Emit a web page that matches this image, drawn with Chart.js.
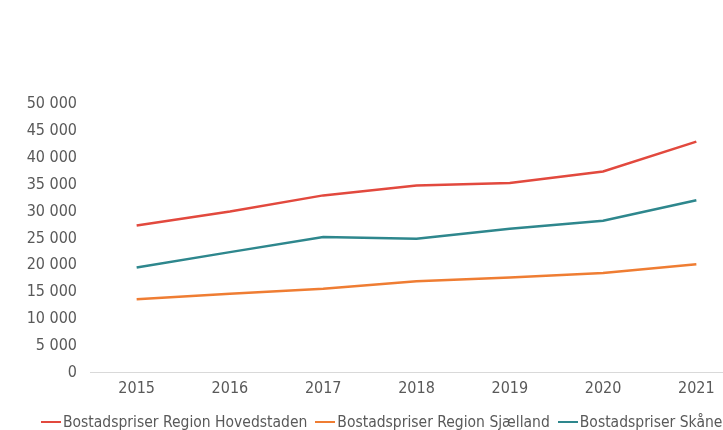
<!DOCTYPE html>
<html>
<head>
<meta charset="utf-8">
<script src="https://cdn.jsdelivr.net/npm/chart.js@4"></script>
<style>
  html, body { margin: 0; padding: 0; background: #fff; overflow: hidden; }
  #wrap { width: 780px; height: 430px; position: relative; }
  #legend {
    position: absolute; left: 41px; top: 413px;
    display: flex; white-space: nowrap;
    font-family: "DejaVu Sans Condensed", "Liberation Sans Narrow", Roboto, sans-serif;
    font-size: 15.5px; line-height: 18px; color: #595959;
  }
  #legend .item { display: flex; align-items: center; margin-right: 8px; }
  #legend .swatch { width: 20px; height: 2.5px; margin-right: 2px; }
</style>
</head>
<body>
<div id="wrap"><canvas id="c"></canvas><div id="legend"></div></div>
<script>
const years = ['2015', '2016', '2017', '2018', '2019', '2020', '2021'];
const hovedstaden = [27400, 30000, 33000, 34850, 35300, 37450, 43000];
const sjaelland = [13700, 14700, 15650, 17050, 17750, 18550, 20200];
const skane = [19600, 22450, 25250, 24950, 26800, 28300, 32100];
const seriesNames = [
  'Bostadspriser Region Hovedstaden',
  'Bostadspriser Region Sjælland',
  'Bostadspriser Skåne'
];

const FONT = '"DejaVu Sans Condensed", "Liberation Sans Narrow", Roboto, sans-serif';
const TEXT = '#595959';

function fmt(v) {
  return String(v).replace(/\B(?=(\d{3})+(?!\d))/g, ' ');
}

function line(label, data, color) {
  return {
    label, data,
    borderColor: color,
    backgroundColor: color,
    borderWidth: 2.5,
    pointRadius: 0,
    pointHoverRadius: 0,
    tension: 0,
    fill: false
  };
}

// Legend row built from the chart's own datasets
const htmlLegend = {
  id: 'htmlLegend',
  afterUpdate(chart) {
    const box = document.getElementById('legend');
    box.innerHTML = '';
    chart.data.datasets.forEach((ds) => {
      const item = document.createElement('span');
      item.className = 'item';
      const sw = document.createElement('span');
      sw.className = 'swatch';
      sw.style.background = ds.borderColor;
      const txt = document.createElement('span');
      txt.textContent = ds.label;
      item.appendChild(sw);
      item.appendChild(txt);
      box.appendChild(item);
    });
  }
};

new Chart(document.getElementById('c'), {
  type: 'line',
  data: {
    labels: years,
    datasets: [
      line(seriesNames[0], hovedstaden, '#e2493e'),
      line(seriesNames[1], sjaelland, '#ef7d33'),
      line(seriesNames[2], skane, '#2e878d')
    ]
  },
  plugins: [htmlLegend],
  options: {
    responsive: true,
    maintainAspectRatio: false,
    animation: false,
    layout: { padding: { top: 104, right: 37, left: 0, bottom: 26 } },
    plugins: {
      tooltip: { enabled: false },
      legend: { display: false }
    },
    scales: {
      x: {
        offset: true,
        grid: { display: false, drawTicks: false },
        border: { display: true, color: '#d9d9d9', width: 1 },
        ticks: { color: TEXT, font: { family: FONT, size: 16 }, padding: 6 }
      },
      y: {
        min: 0,
        max: 50000,
        afterFit: (s) => { s.width = 90; },
        grid: { display: false, drawTicks: false },
        border: { display: false },
        ticks: {
          stepSize: 5000,
          color: TEXT,
          padding: 13,
          font: { family: FONT, size: 16 },
          callback: (v) => fmt(v)
        }
      }
    }
  }
});
</script>
</body>
</html>
